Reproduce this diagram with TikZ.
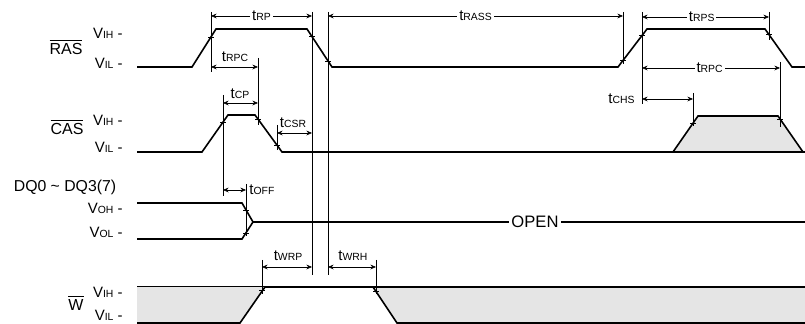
\documentclass[tikz,border=0pt]{standalone}
\usepackage{fontspec}
\setmainfont{Liberation Sans}
\usetikzlibrary{arrows.meta}
\newcommand{\sub}[2]{#1{\fontsize{5.2}{6}\selectfont #2}}
\newcommand{\negsig}[1]{$\overline{\mbox{#1}}$}

\begin{document}
\begin{tikzpicture}[x=0.5pt,y=-0.5pt,>={Stealth[length=2.8pt,width=2.4pt]},
                    font=\fontsize{7.5}{8}\selectfont,
                    sig/.style={line width=0.8pt},
                    dim/.style={line width=0.3pt},
                    dimarr/.style={dim,<->},
                    shade/.style={fill=gray!20},
                    lab/.style={fill=white,inner sep=1pt},
                    lvl/.style={anchor=east,inner sep=0pt}]
  \useasboundingbox (0,0) rectangle (805,324);
  % signal names and levels
  \node[font=\fontsize{8}{9}\selectfont] (ras) at (66,47) {\negsig{RAS}};
  \node[lvl] (rash) at (123,33) {\sub{V}{IH} -};
  \node[lvl] (rasl) at (123,63) {\sub{V}{IL} -};
  \node[font=\fontsize{8}{9}\selectfont] (cas) at (67,127) {\negsig{CAS}};
  \node[lvl] (cash) at (123,120) {\sub{V}{IH} -};
  \node[lvl] (casl) at (123,147) {\sub{V}{IL} -};
  \node[font=\fontsize{7.9}{9}\selectfont] (dq) at (65,187) {DQ0 \textasciitilde\ DQ3(7)};
  \node[lvl] (dqh) at (123,208) {\sub{V}{OH} -};
  \node[lvl] (dql) at (123,232) {\sub{V}{OL} -};
  \node[font=\fontsize{8}{9}\selectfont] (we) at (76,303) {\negsig{W}};
  \node[lvl] (weh) at (123,292) {\sub{V}{IH} -};
  \node[lvl] (wel) at (123,315) {\sub{V}{IL} -};
  % RAS
  \draw[sig] (137,67) -- (192,67) -- (216,29) -- (307,29) -- (332,67) -- (618,67)
             -- (647,29) -- (765,29) -- (792,67) -- (805,67);
  % CAS
  \draw[sig] (137,152) -- (202,152) -- (228,115) -- (255,115) -- (282,152) -- (805,152);
  \draw[sig,shade] (673,152) -- (698,116) -- (778,116) -- (803,152) -- cycle;
  % DQ
  \draw[sig] (137,203) -- (242,203) -- (253,222) -- (805,222);
  \draw[sig] (137,239) -- (242,239) -- (253,222);
  \node[lab,font=\fontsize{8.3}{9}\selectfont] (open) at (535,222) {OPEN};
  % W
  \fill[shade] (137,287) -- (265,287) -- (240,323) -- (137,323) -- cycle;
  \fill[shade] (373,287) -- (805,287) -- (805,323) -- (397,323) -- cycle;
  \draw[line width=0.5pt] (137,287) -- (265,287);
  \draw[sig] (137,323) -- (240,323) -- (265,287) -- (373,287) -- (397,323) -- (805,323);
  \draw[sig] (373,287) -- (805,287);
  % reference lines
  \foreach \x/\a/\b in {211/12/72,312/12/275,328/12/275,623/12/64,642/12/104,769/12/40,
                        780/62/127,693/93/126,258/58/125,223/95/196,277/125/150,
                        246/184/236,262/260/294,376/260/294}
    \draw[dim] (\x,\a) -- (\x,\b);
  % crossing ticks
  \foreach \x/\y in {211/37,312/36.6,328/61,623/60.4,642/35.6,769/34.6,223/122,258/119,
                     277/145,693/123,780/119,246/210,246/233,262/290,376/291.5}
    \draw[dim] (\x-3,\y) -- (\x+3,\y);
  % timing arrows
  \draw[dimarr] (211,16) -- node[lab] (trp) {\sub{t}{RP}} (312,16);
  \draw[dimarr] (328,16) -- node[lab] (trass) {\sub{t}{RASS}} (623,16);
  \draw[dimarr] (642,17) -- node[lab,pos=0.47] (trps) {\sub{t}{RPS}} (769,17);
  \draw[dimarr] (642,68) -- node[lab,pos=0.49] (trpc2) {\sub{t}{RPC}} (780,68);
  \draw[dimarr] (211,67) -- (258,67);
  \node (trpc) at (235,57) {\sub{t}{RPC}};
  \draw[dimarr] (223,103) -- (258,103);
  \node (tcp) at (240,94) {\sub{t}{CP}};
  \draw[dimarr] (277,133) -- (312,133);
  \node (tcsr) at (293,123) {\sub{t}{CSR}};
  \draw[dimarr] (223,190) -- (246,190);
  \node[anchor=west,inner sep=1pt] (toff) at (247,190) {\sub{t}{OFF}};
  \draw[dimarr] (642,99) -- (693,99);
  \node[anchor=east,inner sep=1pt] (tchs) at (637,99) {\sub{t}{CHS}};
  \draw[dimarr] (262,267) -- (312,267);
  \node (twrp) at (288,256) {\sub{t}{WRP}};
  \draw[dimarr] (328,267) -- (376,267);
  \node (twrh) at (353,256) {\sub{t}{WRH}};
\end{tikzpicture}
\end{document}
